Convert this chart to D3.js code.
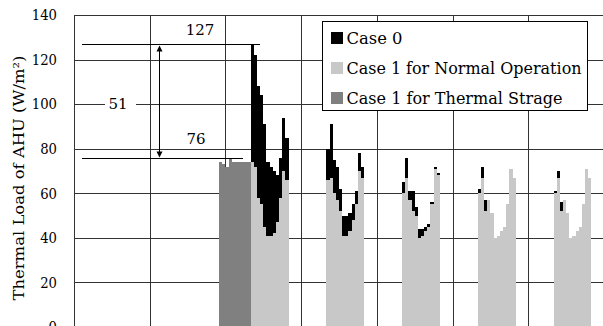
<!DOCTYPE html>
<html>
<head>
<meta charset="utf-8">
<script src="https://cdn.jsdelivr.net/npm/d3@7"></script>
<style>
  body { margin: 0; background: #fff; }
  svg text { font-family: "DejaVu Serif", serif !important; }
</style>
</head>
<body>
<svg id="chart" width="603" height="326"></svg>
<script>
// hourly thermal load of AHU (W/m2), days 1..7
const normalDays = [3, 4, 5, 6, 7];
const normalHours = [8, 9, 10, 11, 12, 13, 14, 15, 16, 17, 18, 19];
const case0Load = [
  [127, 122, 108, 104, 91, 74, 72, 70, 68, 76, 94, 85],
  [80, 91, 75, 72, 62, 50, 50, 51, 55, 61, 78, 72],
  [65, 76, 61, 61, 54, 44, 44, 45, 46, 56, 72, 69],
  [62, 72, 57, 52, 50, 39, 40, 42, 44, 54, 70, 66],
  [61, 70, 56, 52, 50, 39, 40, 42, 44, 54, 70, 66]
];
const case1NormalLoad = [
  [74, 72, 58, 55, 45, 41, 41, 42, 47, 58, 70, 66],
  [66, 67, 60, 57, 52, 41, 41, 43, 48, 55, 70, 67],
  [60, 67, 57, 52, 50, 40, 41, 43, 45, 55, 71, 68],
  [60, 67, 52, 57, 51, 40, 41, 43, 45, 55, 71, 67],
  [60, 67, 52, 57, 51, 40, 41, 43, 45, 55, 71, 67]
];
const storageDay = [2, 2, 3, 3, 3, 3, 3, 3, 3, 3];
const storageHour = [22, 23, 0, 1, 2, 3, 4, 5, 6, 7];
const case1StorageLoad = [74, 73, 72, 76, 74, 74, 74, 74, 74, 74];

const yTicks = [0, 20, 40, 60, 80, 100, 120, 140];
const dayCount = 7;
const peakCase0 = 127;
const peakCase1 = 76;
const legendLabels = ['Case 0', 'Case 1 for Normal Operation', 'Case 1 for Thermal Strage'];
const legendColors = ['#000000', '#c8c8c8', '#808080'];

const serif = '"DejaVu Serif", serif';
const svg = d3.select('#chart');
const margin = { top: 15, left: 74 };
const innerWidth = 530;
const innerHeight = 312;

const x = d3.scaleLinear().domain([0, dayCount * 24]).range([margin.left, margin.left + innerWidth]);
const y = d3.scaleLinear().domain([0, 140]).range([margin.top + innerHeight, margin.top]);
const hourIndex = (day, hour) => (day - 1) * 24 + hour;
const px = (v) => Math.round(v) + 0.5;

// grid
const grid = svg.append('g').attr('stroke', '#333').attr('stroke-width', 1);
grid.selectAll('.hgrid')
  .data(yTicks)
  .enter()
  .append('line')
  .attr('x1', margin.left)
  .attr('x2', margin.left + innerWidth)
  .attr('y1', (d) => px(y(d)))
  .attr('y2', (d) => px(y(d)));
grid.selectAll('.vgrid')
  .data(d3.range(0, dayCount + 1))
  .enter()
  .append('line')
  .attr('x1', (d) => px(x(d * 24)))
  .attr('x2', (d) => px(x(d * 24)))
  .attr('y1', margin.top)
  .attr('y2', margin.top + innerHeight);

// y axis labels
svg.append('g')
  .attr('transform', 'translate(' + margin.left + ',0)')
  .attr('font-family', serif)
  .call(d3.axisLeft(y).tickValues(yTicks).tickSize(0).tickPadding(17))
  .call((g) => g.select('.domain').remove())
  .selectAll('text')
  .style('font-size', '15px')
  .attr('textLength', (d) => String(d).length * 8.4)
  .attr('lengthAdjust', 'spacingAndGlyphs')
  .attr('fill', '#000');

svg.append('text')
  .attr('transform', 'translate(24,178) rotate(-90)')
  .attr('text-anchor', 'middle')
  .style('font-size', '14px')
  .attr('textLength', 245)
  .attr('lengthAdjust', 'spacingAndGlyphs')
  .text('Thermal Load of AHU (W/m²)');

// bars
const barData = [];
normalDays.forEach((day, i) => {
  normalHours.forEach((hour, j) => {
    barData.push({ h: hourIndex(day, hour), c0: case0Load[i][j], c1: case1NormalLoad[i][j] });
  });
});
const bars = svg.append('g').attr('shape-rendering', 'crispEdges');
bars.selectAll('.c0')
  .data(barData)
  .enter()
  .append('rect')
  .attr('x', (d) => x(d.h))
  .attr('width', (d) => x(d.h + 1) - x(d.h))
  .attr('y', (d) => y(d.c0))
  .attr('height', (d) => y(0) - y(d.c0))
  .attr('fill', legendColors[0]);
bars.selectAll('.c1')
  .data(barData)
  .enter()
  .append('rect')
  .attr('x', (d) => x(d.h))
  .attr('width', (d) => x(d.h + 1) - x(d.h))
  .attr('y', (d) => y(d.c1))
  .attr('height', (d) => y(0) - y(d.c1))
  .attr('fill', legendColors[1]);
bars.selectAll('.st')
  .data(case1StorageLoad)
  .enter()
  .append('rect')
  .attr('x', (d, i) => x(hourIndex(storageDay[i], storageHour[i])))
  .attr('width', (d, i) => x(hourIndex(storageDay[i], storageHour[i]) + 1) - x(hourIndex(storageDay[i], storageHour[i])))
  .attr('y', (d) => y(d))
  .attr('height', (d) => y(0) - y(d))
  .attr('fill', legendColors[2]);

// peak annotation
const ann = svg.append('g');
ann.append('line')
  .attr('x1', 82).attr('x2', 260)
  .attr('y1', px(y(peakCase0))).attr('y2', px(y(peakCase0)))
  .attr('stroke', '#000');
ann.append('line')
  .attr('x1', 82).attr('x2', 243)
  .attr('y1', px(y(peakCase1))).attr('y2', px(y(peakCase1)))
  .attr('stroke', '#000');
const ax = 159.5;
const yTop = px(y(peakCase0));
const yBot = px(y(peakCase1));
ann.append('line')
  .attr('x1', ax).attr('x2', ax)
  .attr('y1', yTop + 4).attr('y2', yBot - 4)
  .attr('stroke', '#000');
ann.append('path')
  .attr('d', 'M' + ax + ',' + (yTop + 1) + 'l-3,6h6z')
  .attr('fill', '#000');
ann.append('path')
  .attr('d', 'M' + ax + ',' + (yBot - 1) + 'l-3,-6h6z')
  .attr('fill', '#000');
ann.append('text')
  .attr('x', 200).attr('y', (y(140) + y(peakCase0)) / 2)
  .attr('dy', '0.35em')
  .attr('text-anchor', 'middle')
  .style('font-size', '15px')
  .text(peakCase0);
ann.append('text')
  .attr('x', 196).attr('y', 139)
  .attr('dy', '0.35em')
  .attr('text-anchor', 'middle')
  .style('font-size', '15px')
  .text(peakCase1);
ann.append('rect')
  .attr('x', 105).attr('y', y(100) - 8)
  .attr('width', 31).attr('height', 16)
  .attr('fill', '#fff');
ann.append('text')
  .attr('x', 118).attr('y', px(y(100)) - 1)
  .attr('dy', '0.35em')
  .attr('text-anchor', 'middle')
  .style('font-size', '15px')
  .text(peakCase0 - peakCase1);

// legend
const legend = svg.append('g').attr('transform', 'translate(322.5,21.5)');
legend.append('rect')
  .attr('width', 265).attr('height', 89)
  .attr('fill', '#fff').attr('stroke', '#000');
const legendWidths = [56, 235, 216];
const row = legend.selectAll('.row')
  .data(legendLabels)
  .enter()
  .append('g')
  .attr('transform', (d, i) => 'translate(0,' + (17 + i * 30) + ')');
row.append('rect')
  .attr('x', 8.5).attr('y', -6.5)
  .attr('width', 12).attr('height', 12)
  .attr('fill', (d, i) => legendColors[i]);
row.append('text')
  .attr('x', 24).attr('dy', '0.35em')
  .style('font-size', '16px')
  .attr('textLength', (d, i) => legendWidths[i])
  .attr('lengthAdjust', 'spacingAndGlyphs')
  .text((d) => d);
</script>
</body>
</html>
